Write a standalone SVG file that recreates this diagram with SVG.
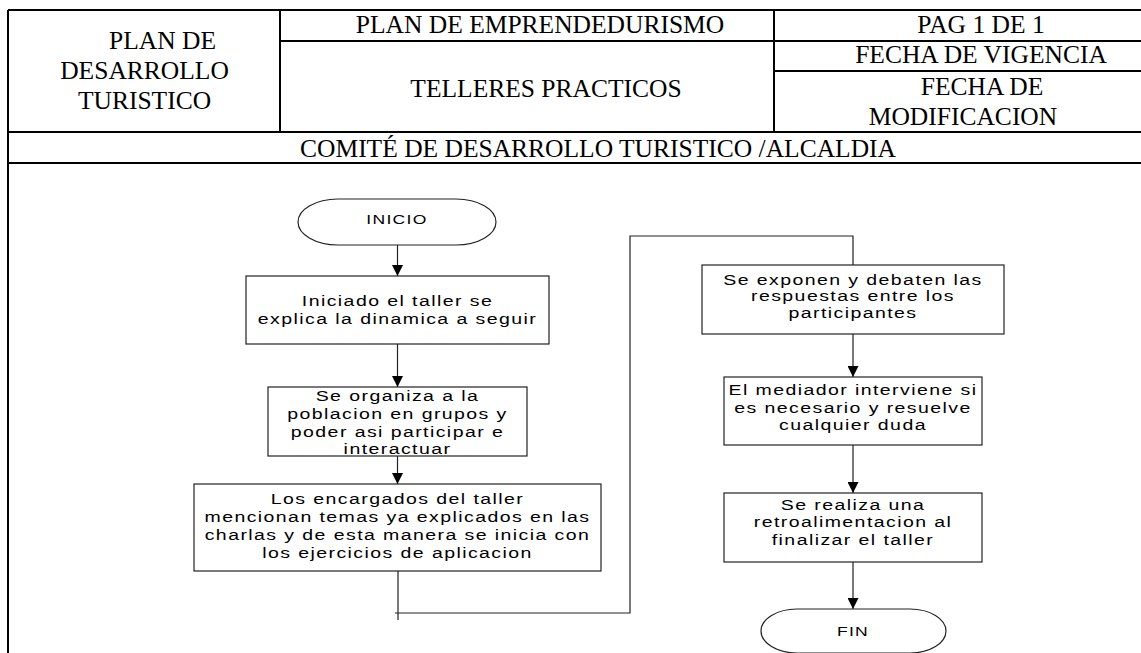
<svg xmlns="http://www.w3.org/2000/svg" width="1141" height="653" viewBox="0 0 1141 653">
<style>
.tbl{stroke:#000;stroke-width:2;fill:none}
.hd{font-family:"Liberation Serif","Times New Roman",serif;font-size:25.5px;fill:#000;text-anchor:middle}
.box{fill:#fff;stroke:#222;stroke-width:1.2}
.fc{font-family:"Liberation Sans",Arial,sans-serif;font-size:15px;fill:#000;text-anchor:middle;letter-spacing:1.1px}
.term{font-family:"Liberation Sans",Arial,sans-serif;font-size:13.5px;fill:#000;text-anchor:middle;letter-spacing:1px}
.ln{stroke:#222;stroke-width:1.2;fill:none}
</style>
<defs>
<marker id="ah" markerUnits="userSpaceOnUse" markerWidth="12" markerHeight="11" refX="11" refY="5.5" orient="auto">
<path d="M0,0 L11,5.5 L0,11 Z" fill="#000"/>
</marker>
</defs>
<rect width="1141" height="653" fill="#fff"/>
<g id="header">
<path class="tbl" d="M8,10 H1141 M8,10 V653 M280,10 V132 M774,10 V132 M280,41 H1141 M774,71 H1141 M8,132 H1141 M8,163 H1141"/>
<text class="hd" x="162.5" y="49">PLAN DE</text>
<text class="hd" x="144.5" y="79">DESARROLLO</text>
<text class="hd" x="144.5" y="109">TURISTICO</text>
<text class="hd" x="540" y="33">PLAN DE EMPRENDEDURISMO</text>
<text class="hd" x="546" y="97">TELLERES PRACTICOS</text>
<text class="hd" x="981" y="33">PAG 1 DE 1</text>
<text class="hd" x="981" y="63">FECHA DE VIGENCIA</text>
<text class="hd" x="982" y="95">FECHA DE</text>
<text class="hd" x="963" y="125">MODIFICACION</text>
<text class="hd" x="598" y="157">COMITÉ DE DESARROLLO TURISTICO /ALCALDIA</text>
</g>
<g id="connectors">
<path class="ln" d="M397.5,245 V276" marker-end="url(#ah)"/>
<path class="ln" d="M397.5,344 V387" marker-end="url(#ah)"/>
<path class="ln" d="M397.5,456 V484" marker-end="url(#ah)"/>
<path class="ln" d="M398,571 V620 M395,613 H630 V236 H853 V265"/>
<path class="ln" d="M853,334 V377" marker-end="url(#ah)"/>
<path class="ln" d="M853,445 V493" marker-end="url(#ah)"/>
<path class="ln" d="M853,562 V609" marker-end="url(#ah)"/>
</g>
<g id="inicio">
<rect class="box" x="298" y="199" width="198" height="46" rx="40" ry="23"/>
<g transform="translate(397,224) scale(1.3,1)"><text class="term" x="0" y="0">INICIO</text></g>
</g>
<g id="n1">
<rect class="box" x="246" y="276" width="303" height="68"/>
<g transform="translate(397.5,0) scale(1.3,1)">
<text class="fc" x="0" y="306">Iniciado el taller se</text>
<text class="fc" x="0" y="324">explica la dinamica a seguir</text>
</g>
</g>
<g id="n2">
<rect class="box" x="268" y="387" width="259" height="69"/>
<g transform="translate(397.5,0) scale(1.3,1)">
<text class="fc" x="0" y="401">Se organiza a la</text>
<text class="fc" x="0" y="419">poblacion en grupos y</text>
<text class="fc" x="0" y="437">poder asi participar e</text>
<text class="fc" x="0" y="454">interactuar</text>
</g>
</g>
<g id="n3">
<rect class="box" x="194" y="484" width="407" height="87"/>
<g transform="translate(397.5,0) scale(1.3,1)">
<text class="fc" x="0" y="504">Los encargados del taller</text>
<text class="fc" x="0" y="522">mencionan temas ya explicados en las</text>
<text class="fc" x="0" y="540">charlas y de esta manera se inicia con</text>
<text class="fc" x="0" y="558">los ejercicios de aplicacion</text>
</g>
</g>
<g id="n4">
<rect class="box" x="702" y="265" width="302" height="69"/>
<g transform="translate(853,0) scale(1.3,1)">
<text class="fc" x="0" y="285">Se exponen y debaten las</text>
<text class="fc" x="0" y="301.5">respuestas entre los</text>
<text class="fc" x="0" y="318">participantes</text>
</g>
</g>
<g id="n5">
<rect class="box" x="724" y="377" width="258" height="68"/>
<g transform="translate(853,0) scale(1.3,1)">
<text class="fc" x="0" y="395">El mediador interviene si</text>
<text class="fc" x="0" y="413">es necesario y resuelve</text>
<text class="fc" x="0" y="430">cualquier duda</text>
</g>
</g>
<g id="n6">
<rect class="box" x="724" y="493" width="258" height="69"/>
<g transform="translate(853,0) scale(1.3,1)">
<text class="fc" x="0" y="510">Se realiza una</text>
<text class="fc" x="0" y="527.5">retroalimentacion al</text>
<text class="fc" x="0" y="545">finalizar el taller</text>
</g>
</g>
<g id="fin">
<rect class="box" x="761" y="609" width="185" height="44" rx="36" ry="22"/>
<g transform="translate(853,636) scale(1.3,1)"><text class="term" x="0" y="0">FIN</text></g>
</g>
</svg>
